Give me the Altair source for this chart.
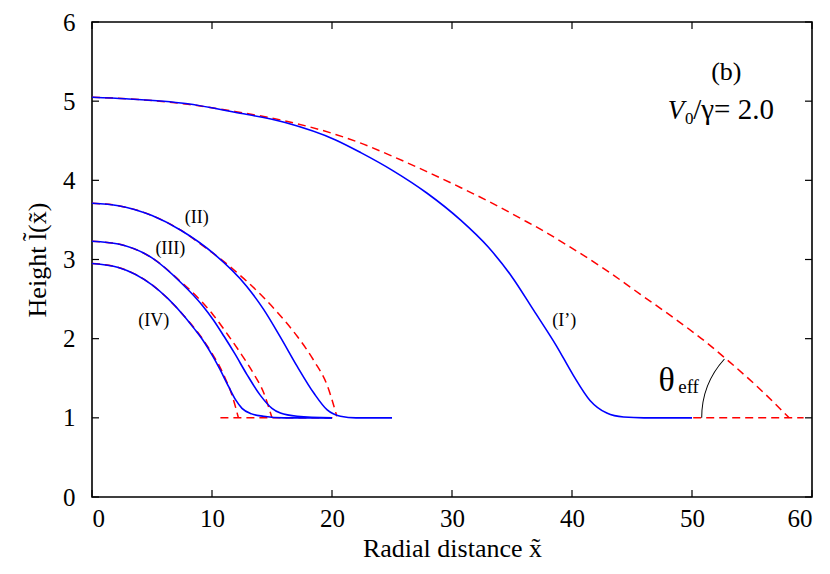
import altair as alt
import pandas as pd

# ---------------- data ----------------
x_ticks = [0, 10, 20, 30, 40, 50, 60]
y_ticks = [0, 1, 2, 3, 4, 5, 6]

# blue solid profiles
b1_x = [0, 2.8, 7.8, 11.9, 16.1, 20.3, 22.4, 25.1, 27.9, 30.7, 33.0, 35.0, 36.8, 38.7, 40.1, 41.5, 42.9, 44.3, 46, 50]
b1_y = [5.05, 5.03, 4.97, 4.86, 4.73, 4.51, 4.35, 4.12, 3.84, 3.50, 3.16, 2.78, 2.36, 1.91, 1.54, 1.22, 1.06, 1.01, 1.0, 1.0]

b2_x = [0, 2.2, 5.0, 7.4, 10.1, 12.9, 14.3, 15.7, 17.1, 18.5, 19.6, 20.7, 22, 25]
b2_y = [3.71, 3.68, 3.555, 3.37, 3.08, 2.66, 2.37, 2.02, 1.65, 1.31, 1.10, 1.02, 1.0, 1.0]

b3_x = [0, 2.2, 5.0, 7.4, 9.2, 10.1, 11.0, 11.9, 12.9, 14.0, 15.0, 15.7, 17.1, 20]
b3_y = [3.23, 3.195, 3.02, 2.71, 2.42, 2.24, 2.03, 1.81, 1.55, 1.29, 1.12, 1.06, 1.02, 1.0]

b4_x = [0, 2.2, 5.0, 7.6, 8.5, 9.2, 10.1, 10.6, 11.4, 12.0, 12.5, 13.3, 14.3, 16, 20]
b4_y = [2.95, 2.90, 2.68, 2.30, 2.13, 1.99, 1.77, 1.63, 1.39, 1.22, 1.12, 1.05, 1.02, 1.0, 1.0]

# red dashed fitted caps
r1_x = [0, 4, 8, 11.9, 16.1, 20.3, 22.4, 25.1, 27.9, 30.7, 33.5, 35.7, 37.4, 39.6, 42.9, 45.7, 48.5, 51.3, 53.1, 55.4, 58.1]
r1_y = [5.05, 5.02, 4.96, 4.87, 4.75, 4.58, 4.47, 4.30, 4.11, 3.91, 3.70, 3.52, 3.38, 3.18, 2.86, 2.56, 2.26, 1.94, 1.71, 1.40, 1.0]

r2_x = [0, 2.2, 5, 7.4, 9.0, 11.5, 14.3, 15.7, 17.1, 18.5, 19.6, 20.4]
r2_y = [3.71, 3.68, 3.555, 3.37, 3.20, 2.91, 2.52, 2.29, 2.03, 1.72, 1.41, 1.02]

r3_x = [0, 2.2, 5, 7.4, 8.75, 10.1, 11.5, 12.5, 13.5, 14.3, 15.0]
r3_y = [3.23, 3.195, 3.02, 2.72, 2.53, 2.30, 2.01, 1.79, 1.55, 1.32, 1.0]

r4_x = [0, 2.2, 5, 7.6, 9.2, 10.1, 10.6, 11.1, 11.7, 12.2]
r4_y = [2.95, 2.90, 2.68, 2.30, 2.00, 1.79, 1.66, 1.50, 1.27, 1.0]

# red dashed base lines
rb1_x = [50.1, 59.3]
rb1_y = [1.0, 1.0]
rb2_x = [10.7, 20.4]
rb2_y = [1.0, 1.0]

# annotation texts
curve_labels = ["(II)", "(III)", "(IV)", "(I\u2019)"]
curve_label_x = [8.73, 6.53, 5.15, 39.36]
curve_label_y = [3.46, 3.07, 2.16, 2.16]

W, H = 720, 475
FONT = "Liberation Serif, Times New Roman, Times, serif"


def frame(xs, ys, name):
    return pd.DataFrame({"x": xs, "y": ys, "series": name})


blue = pd.concat([frame(b1_x, b1_y, "I'"), frame(b2_x, b2_y, "II"),
                  frame(b3_x, b3_y, "III"), frame(b4_x, b4_y, "IV")])
red = pd.concat([frame(r1_x, r1_y, "I'"), frame(r2_x, r2_y, "II"),
                 frame(r3_x, r3_y, "III"), frame(r4_x, r4_y, "IV")])
red_base = pd.concat([frame(rb1_x, rb1_y, "b1"), frame(rb2_x, rb2_y, "b2")])

xs = alt.Scale(domain=[0, 60], nice=False, zero=False)
ys = alt.Scale(domain=[0, 6], nice=False, zero=False)

x_enc = alt.X("x:Q", scale=xs,
              axis=alt.Axis(values=x_ticks, title="Radial distance x\u0303", format="d",
                            labelPadding=9, titlePadding=4))
y_enc = alt.Y("y:Q", scale=ys,
              axis=alt.Axis(values=y_ticks, title="Height l\u0303(x\u0303)", format="d",
                            labelPadding=17, titlePadding=12))

red_lines = alt.Chart(red).mark_line(color="#ff0000", strokeWidth=1.5, strokeDash=[8, 5],
                                     interpolate="monotone").encode(x=x_enc, y=y_enc, detail="series:N")
red_base_lines = alt.Chart(red_base).mark_line(color="#ff0000", strokeWidth=1.5,
                                               strokeDash=[8, 5]).encode(x=x_enc, y=y_enc, detail="series:N")
blue_lines = alt.Chart(blue).mark_line(color="#0000ff", strokeWidth=1.6,
                                       interpolate="monotone").encode(x=x_enc, y=y_enc, detail="series:N")

# inward ticks on all four sides
xt = pd.DataFrame({"x": x_ticks})
yt = pd.DataFrame({"y": y_ticks})
tick_len = 7
ticks_bottom = alt.Chart(xt).mark_rule(color="black", strokeWidth=1.2).encode(
    x=x_enc, y=alt.value(H), y2=alt.value(H - tick_len))
ticks_top = alt.Chart(xt).mark_rule(color="black", strokeWidth=1.2).encode(
    x=x_enc, y=alt.value(0), y2=alt.value(tick_len))
ticks_left = alt.Chart(yt).mark_rule(color="black", strokeWidth=1.2).encode(
    y=y_enc, x=alt.value(0), x2=alt.value(tick_len))
ticks_right = alt.Chart(yt).mark_rule(color="black", strokeWidth=1.2).encode(
    y=y_enc, x=alt.value(W), x2=alt.value(W - tick_len))

# theta_eff arc centred on the contact point of the large fitted cap
arc_df = pd.DataFrame({"x": [r1_x[-1]], "y": [r1_y[-1]]})
arc = alt.Chart(arc_df).mark_arc(theta=4.712, theta2=5.45, radius=88, radius2=87,
                                 color="black").encode(x=x_enc, y=y_enc)


def text_layer(df, size, align="center", style="normal"):
    return alt.Chart(df).mark_text(font=FONT, fontSize=size, align=align, baseline="alphabetic",
                                   fontStyle=style, color="black").encode(
        x=x_enc, y=y_enc, text="t:N")


lab_df = pd.DataFrame({"x": curve_label_x, "y": curve_label_y, "t": curve_labels})
labels = text_layer(lab_df, 18)

b_txt = text_layer(pd.DataFrame({"x": [52.86], "y": [5.27], "t": ["(b)"]}), 26)
v_txt = text_layer(pd.DataFrame({"x": [49.36], "y": [4.78], "t": ["V"]}), 27, "right", "italic")
sub0 = text_layer(pd.DataFrame({"x": [49.42], "y": [4.71], "t": ["0"]}), 17, "left")
rest = text_layer(pd.DataFrame({"x": [50.1], "y": [4.78], "t": ["/\u03b3= 2.0"]}), 29, "left")
theta_txt = text_layer(pd.DataFrame({"x": [47.2], "y": [1.34], "t": ["\u03b8"]}), 34, "left")
eff_txt = text_layer(pd.DataFrame({"x": [48.85], "y": [1.31], "t": ["eff"]}), 19, "left")

chart = alt.layer(
    red_lines, red_base_lines, blue_lines,
    ticks_bottom, ticks_top, ticks_left, ticks_right,
    arc, labels, b_txt, v_txt, sub0, rest, theta_txt, eff_txt,
).properties(
    width=W, height=H,
    autosize=alt.AutoSizeParams(type="none"),
    padding={"left": 84, "top": 14, "right": 10, "bottom": 76},
).configure_view(
    stroke="black", strokeWidth=1.6
).configure_axis(
    grid=False, ticks=False, tickSize=0, domain=False,
    labelFont=FONT, labelFontSize=25, labelColor="black",
    titleFont=FONT, titleFontSize=26, titleFontWeight="normal", titleColor="black",
)

chart.save("out.html", embed_options={"renderer": "svg", "actions": False})
